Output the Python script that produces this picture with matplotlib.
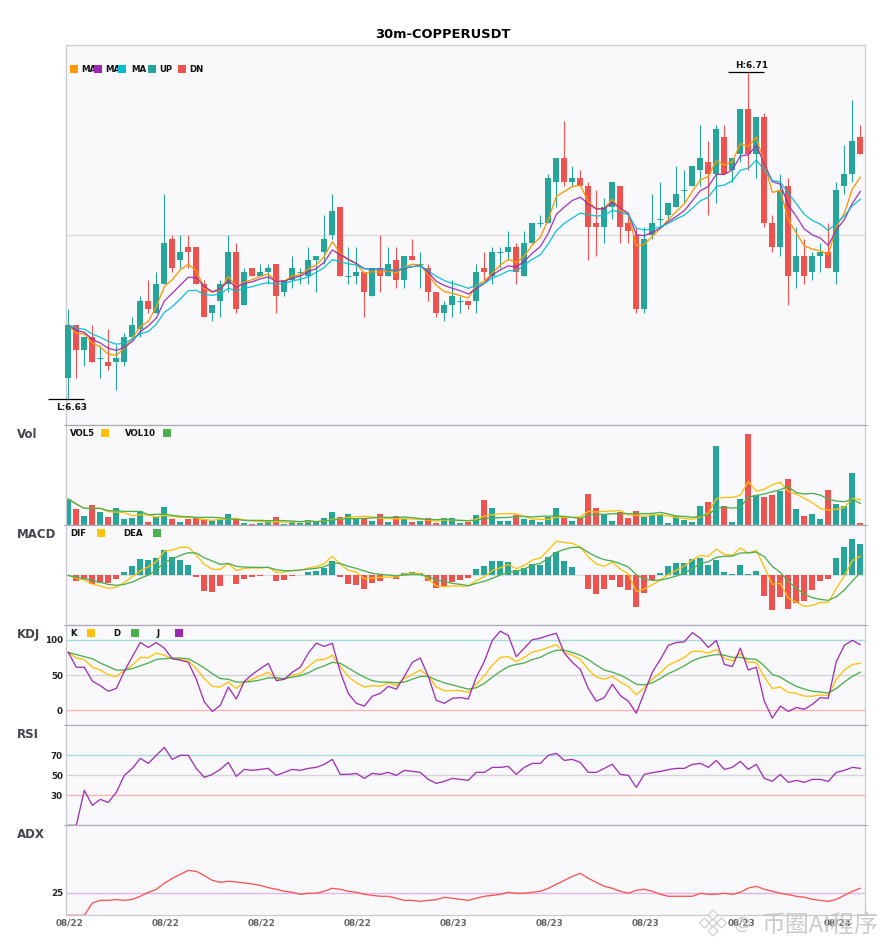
import matplotlib
matplotlib.use("Agg")
import matplotlib.pyplot as plt
from matplotlib.patches import Rectangle, Polygon
from matplotlib.lines import Line2D
from matplotlib.transforms import ScaledTranslation

W, H = 885, 950
plt.rcParams['font.family'] = ['DejaVu Sans']

title = "30m-COPPERUSDT"
tick_dates = ["08/22", "08/22", "08/22", "08/22", "08/23", "08/23", "08/23", "08/23", "08/24"]
tick_idx = [0, 12, 24, 36, 48, 60, 72, 84, 96]

opens = [6.635,6.648,6.642,6.645,6.640,6.639,6.639,6.639,6.645,6.647,
6.654,6.651,6.658,6.669,6.664,6.667,6.667,6.658,6.651,6.654,
6.658,6.666,6.653,6.662,6.660,6.661,6.663,6.656,6.659,6.661,
6.660,6.664,6.666,6.670,6.677,6.660,6.660,6.661,6.655,6.662,
6.660,6.664,6.659,6.665,6.663,6.662,6.656,6.651,6.653,6.654,
6.654,6.654,6.662,6.660,6.666,6.666,6.667,6.660,6.668,6.673,
6.673,6.683,6.689,6.683,6.684,6.682,6.673,6.672,6.677,6.682,
6.673,6.670,6.652,6.670,6.674,6.675,6.677,6.681,6.682,6.686,
6.688,6.685,6.694,6.686,6.690,6.701,6.690,6.699,6.673,6.667,
6.682,6.661,6.665,6.661,6.665,6.666,6.661,6.682,6.685,6.694]
highs = [6.652,6.648,6.645,6.648,6.643,6.647,6.643,6.646,6.650,6.655,
6.659,6.661,6.680,6.670,6.670,6.670,6.667,6.659,6.653,6.659,
6.670,6.668,6.662,6.662,6.663,6.663,6.663,6.659,6.665,6.662,
6.667,6.665,6.675,6.680,6.677,6.667,6.667,6.661,6.662,6.670,
6.667,6.667,6.665,6.669,6.666,6.663,6.656,6.654,6.659,6.655,
6.654,6.663,6.666,6.667,6.667,6.671,6.668,6.671,6.673,6.675,
6.685,6.689,6.698,6.687,6.686,6.683,6.681,6.679,6.683,6.682,
6.675,6.672,6.672,6.680,6.683,6.678,6.687,6.686,6.687,6.697,
6.693,6.697,6.697,6.689,6.701,6.710,6.699,6.700,6.675,6.685,
6.684,6.672,6.669,6.666,6.668,6.673,6.683,6.692,6.703,6.697]
lows = [6.630,6.635,6.638,6.639,6.635,6.637,6.632,6.638,6.644,6.645,
6.651,6.651,6.658,6.661,6.662,6.662,6.658,6.650,6.649,6.650,
6.656,6.651,6.653,6.660,6.660,6.658,6.651,6.655,6.657,6.658,
6.658,6.656,6.663,6.669,6.660,6.658,6.658,6.650,6.655,6.656,
6.660,6.657,6.657,6.664,6.657,6.654,6.650,6.649,6.650,6.651,
6.652,6.651,6.659,6.658,6.662,6.664,6.658,6.660,6.668,6.672,
6.673,6.677,6.682,6.682,6.682,6.664,6.665,6.668,6.674,6.668,
6.668,6.651,6.651,6.669,6.672,6.674,6.677,6.678,6.682,6.682,
6.675,6.678,6.685,6.683,6.688,6.686,6.684,6.672,6.666,6.665,
6.653,6.657,6.658,6.659,6.661,6.662,6.658,6.680,6.683,6.690]
closes = [6.648,6.642,6.645,6.639,6.640,6.638,6.640,6.645,6.648,6.654,
6.652,6.658,6.668,6.662,6.666,6.666,6.658,6.650,6.653,6.658,
6.666,6.652,6.661,6.660,6.661,6.662,6.655,6.659,6.662,6.661,
6.664,6.665,6.669,6.676,6.660,6.660,6.661,6.656,6.662,6.660,
6.663,6.659,6.665,6.664,6.663,6.656,6.651,6.653,6.655,6.654,
6.653,6.661,6.661,6.666,6.666,6.667,6.661,6.668,6.673,6.673,
6.684,6.689,6.683,6.684,6.682,6.672,6.672,6.677,6.683,6.672,
6.671,6.652,6.669,6.673,6.674,6.678,6.680,6.681,6.687,6.689,
6.685,6.696,6.685,6.689,6.701,6.690,6.699,6.673,6.667,6.681,
6.660,6.665,6.660,6.665,6.666,6.662,6.681,6.685,6.693,6.690]

ma5 = [6.6480,6.6460,6.6458,6.6436,6.6426,6.6409,6.6406,6.6423,6.6448,6.6476,
6.6489,6.6525,6.6574,6.6591,6.6615,6.6629,6.6613,6.6570,6.6560,6.6566,
6.6599,6.6574,6.6585,6.6591,6.6599,6.6605,6.6587,6.6588,6.6600,6.6603,
6.6617,6.6627,6.6648,6.6684,6.6656,6.6640,6.6630,6.6607,6.6611,6.6609,
6.6613,6.6607,6.6622,6.6629,6.6627,6.6603,6.6577,6.6562,6.6558,6.6552,
6.6546,6.6578,6.6587,6.6607,6.6627,6.6641,6.6633,6.6649,6.6676,6.6695,
6.6738,6.6795,6.6807,6.6819,6.6822,6.6782,6.6764,6.6766,6.6788,6.6762,
6.6752,6.6674,6.6678,6.6697,6.6717,6.6738,6.6758,6.6777,6.6807,6.6835,
6.6844,6.6882,6.6872,6.6879,6.6924,6.6917,6.6940,6.6876,6.6805,6.6809,
6.6738,6.6705,6.6674,6.6666,6.6662,6.6652,6.6721,6.6754,6.6813,6.6842]
ma10 = [6.6480,6.6467,6.6462,6.6445,6.6436,6.6423,6.6418,6.6425,6.6440,6.6464,
6.6478,6.6497,6.6539,6.6558,6.6578,6.6597,6.6596,6.6574,6.6562,6.6568,
6.6588,6.6573,6.6582,6.6586,6.6593,6.6598,6.6587,6.6587,6.6595,6.6600,
6.6611,6.6618,6.6634,6.6664,6.6652,6.6641,6.6631,6.6618,6.6617,6.6617,
6.6615,6.6613,6.6619,6.6623,6.6626,6.6609,6.6587,6.6577,6.6570,6.6564,
6.6556,6.6569,6.6582,6.6603,6.6615,6.6625,6.6622,6.6636,6.6656,6.6672,
6.6705,6.6751,6.6769,6.6785,6.6793,6.6777,6.6764,6.6765,6.6780,6.6766,
6.6754,6.6701,6.6699,6.6707,6.6717,6.6733,6.6746,6.6760,6.6784,6.6809,
6.6819,6.6849,6.6849,6.6860,6.6894,6.6897,6.6919,6.6876,6.6831,6.6825,
6.6774,6.6746,6.6715,6.6701,6.6693,6.6675,6.6713,6.6738,6.6778,6.6807]
ma20 = [6.6480,6.6472,6.6470,6.6458,6.6450,6.6440,6.6433,6.6436,6.6445,6.6459,
6.6464,6.6482,6.6511,6.6525,6.6544,6.6564,6.6565,6.6555,6.6553,6.6556,
6.6570,6.6564,6.6570,6.6574,6.6580,6.6584,6.6580,6.6582,6.6588,6.6592,
6.6598,6.6609,6.6621,6.6640,6.6635,6.6630,6.6627,6.6618,6.6617,6.6616,
6.6616,6.6613,6.6621,6.6623,6.6625,6.6613,6.6599,6.6589,6.6582,6.6577,
6.6570,6.6577,6.6582,6.6595,6.6603,6.6613,6.6613,6.6627,6.6641,6.6652,
6.6679,6.6711,6.6729,6.6742,6.6754,6.6750,6.6747,6.6748,6.6761,6.6756,
6.6750,6.6717,6.6713,6.6715,6.6720,6.6729,6.6740,6.6749,6.6766,6.6784,
6.6793,6.6819,6.6823,6.6833,6.6859,6.6864,6.6884,6.6860,6.6834,6.6830,
6.6803,6.6777,6.6751,6.6736,6.6727,6.6712,6.6729,6.6747,6.6772,6.6788]

volume = [77,47,26,59,38,23,50,17,20,41,8,23,53,17,8,17,23,17,11,17,
32,17,5,2,5,14,23,2,8,5,14,8,20,38,23,32,17,20,11,32,
8,26,17,8,11,20,5,20,20,5,8,29,74,50,11,11,29,17,14,8,
23,50,26,11,20,92,50,32,11,38,20,41,23,29,32,5,26,14,8,56,
68,236,56,8,77,272,89,83,89,101,137,47,26,32,17,104,62,56,155,5]
vol5 = [77,62,49,49,49,39,38,36,27,30,29,23,28,25,22,22,21,15,13,16,
18,19,14,11,10,8,9,8,8,9,9,10,11,16,18,22,24,25,24,19,
19,17,18,17,16,14,11,14,14,12,12,16,26,30,33,33,33,24,17,16,
16,22,22,22,24,40,38,40,41,43,29,29,25,30,30,26,22,19,16,23,
35,78,82,82,88,130,101,106,120,127,99,92,79,66,49,44,46,52,79,75]
vol10 = [77,62,49,49,49,42,42,40,40,40,30,31,32,28,25,24,22,22,22,21,
17,16,13,13,13,12,13,12,11,9,12,9,11,14,17,18,18,19,20,22,
22,22,23,21,18,16,15,17,14,13,12,13,19,21,21,22,24,25,23,25,
26,26,25,22,19,29,31,31,33,33,33,33,33,34,37,32,26,25,22,26,
30,49,52,50,52,82,88,92,99,105,114,96,92,94,89,76,71,69,76,64]

macd_hist = [0,-17,-11,-26,-23,-23,-11,10,28,49,46,52,76,55,46,31,-5,-47,-50,-32,
0,-26,-11,-5,-2,0,-17,-14,-2,0,10,13,22,43,-5,-26,-29,-41,-23,-17,
0,-11,6,10,6,-17,-38,-32,-20,-14,-8,19,28,43,43,40,16,22,34,31,
55,70,43,25,0,-41,-56,-41,-14,-35,-44,-95,-53,-14,7,28,37,37,49,52,
31,46,10,4,31,4,13,-62,-104,-65,-101,-83,-77,-44,-17,-11,52,85,109,94]
dif = [0,-9,-14,-26,-32,-39,-36,-21,-4,14,25,41,72,76,84,84,61,33,18,18,
35,15,21,22,22,24,9,10,15,15,22,26,35,58,33,15,10,-10,-8,-6,
-5,-5,4,6,6,-11,-32,-34,-32,-32,-32,-16,-4,15,23,33,20,30,46,52,
76,102,99,96,85,55,34,27,40,19,4,-48,-41,-28,-14,3,15,28,46,60,
57,79,63,60,82,66,75,25,-27,-24,-69,-80,-93,-90,-81,-81,-39,-2,44,57]
dea = [0,-6,-10,-15,-21,-27,-30,-27,-20,-9,1,16,39,49,60,68,67,53,43,33,
36,27,25,24,24,24,17,14,14,16,19,21,26,37,36,27,21,13,6,3,
1,-1,1,3,2,-4,-14,-18,-24,-27,-31,-24,-18,-9,1,9,12,19,31,36,
51,69,78,84,84,69,56,47,43,35,25,2,-11,-15,-14,-9,-2,7,20,36,
41,54,57,58,67,68,70,56,27,9,-18,-39,-56,-67,-72,-75,-64,-44,-17,8]

k_line = [82,74,72,61,57,50,48,56,64,75,74.5,81,78,73,72,70,59,45,34,33,
40,31,40,44,49,54,45,44,50,52,62,71,72,78,62,48,39,33,35,34,
39,35,45,51,57,49,33,28,28,28,25.5,37,49,64,75,76,69,75,82.5,85,
89,93,82,78,72,58,47,44,48,40,34,22,32,44,53,64,69,75,83.5,83.5,
81,86,74,70,81,68,68,47,31,33,25.5,24,20,20,22,21,44,57,65,66.5]
d_line = [82,79,76,73,67,62,57,57,59,63,67,72,73,74,74,73,67,60,52,45,
44,40,40,41,43,46,46,45,47,49,53,59,63,68,66.5,60,53,47,42,40,
40,39,40,44,48,48,43,39,36,33,30,32,38,47,55,62,65,67,72,75,
81,85,85,82,78,72,64,57,54,50,44,37,36,39,45,52,57,63,70,74.5,
77,79,78,75,75,73,72,63,51,47,40,34,30,27,26,24.5,31,40,48,54]
j_line = [82,61,61,41.5,35,27,31,55,76,96,89,96,88,73,71,68,44,12,-1.5,7,
33,16,41,51,59,66.5,42,44,54,61,81,95,90.5,95,54,24,10,6,20,24,
34,30,48,68,74,48,14,10,17,18,16,47,69,99,112,106,76,88,100,102,
106,109,81,68,58,31,13,18,37,21,13,-4,25,54,72,92,96,97,110,102,
89,99,65,62,88,57,61,13,-11,6,-1.5,4,1.5,8.5,18,17,69,92,99,93]

rsi = [0,0,35,20,26,23,33,50,57,67,62,70,78,66,70,70,57,48,51,56,
63,49,56,55,56,57,50,53,56,55,57,58,61,66,51,51,52,47,52,51,
53,50,55,54,53,46,42,44,47,46,45,53,53,58,58,59,51,58,62,62,
70,72,65,66,63,53,53,57,61,51,50,38,51,52.7,54,55.7,57,57,61,62,
58,65,56,58,64,56,61,47,44,51,43,45,43,46,46,44,53,55,58,57]

adx = [0,0,0,13.6,16.5,16.5,17.3,16.5,17.6,21,25.4,28.7,35.3,40.8,45.2,49.6,48.5,43.8,38.6,36.4,
37.5,36.8,35.7,34.6,33,30.5,28.7,26.5,25.4,23.2,24.3,24.3,26.5,29.8,28.7,26.5,25.4,23.2,22,21,
21,18.8,16.5,16.5,15.4,16.5,17.3,19.9,18.8,17.6,16.5,18.8,21,22,23.2,25.4,24.3,24.3,25.4,26.5,
29.8,34.2,38.6,43,46.3,40.8,36.4,32,29.8,26.5,24.3,27.6,28.7,26.5,23.2,21,21,21,21,24.3,
23.2,23.2,24.3,23.2,25.4,30.1,32,28.7,26.5,24.3,22.8,21,19.9,17.6,16.5,15.4,17.6,22,26.5,29.8]

series = [opens, highs, lows, closes, ma5, ma10, ma20, volume, vol5, vol10, macd_hist, dif, dea,
          k_line, d_line, j_line, rsi, adx]
for s in series:
    assert len(s) == 100, len(s)

UP, DN = '#26a69a', '#ef5350'
ORANGE, PURPLE, CYAN = '#ff9800', '#9c27b0', '#00bcd4'
YELLOW, GREEN = '#ffc107', '#4caf50'
BG = '#f9f9fc'
EDGE = '#c9c9d3'
DARK = '#aaaab2'
X = list(range(100))
colors = [UP if c >= o else DN for o, c in zip(opens, closes)]
XLIM = (-0.325, 99.625)

fig = plt.figure(figsize=(W / 100, H / 100), dpi=100, facecolor='white')


def panel(top, bottom, ylim):
    l, r = 65.7, 865.3
    ax = fig.add_axes([l / W, 1 - bottom / H, (r - l) / W, (bottom - top) / H], facecolor=BG)
    ax.set_xlim(*XLIM)
    ax.set_ylim(*ylim)
    ax.set_xticks([])
    ax.set_yticks([])
    for s in ax.spines.values():
        s.set_color(EDGE)
        s.set_linewidth(0.9)
    ax.spines['top'].set_color(DARK)
    return ax


def yticks(ax, vals):
    ax.set_yticks(vals)
    ax.set_yticklabels([str(v) for v in vals], fontsize=6.3, fontweight='bold', color='#222222')
    ax.tick_params(axis='y', length=0, pad=2.0)


def px_rect(x0, y0, x1, y1, color):
    fig.add_artist(Rectangle((x0 / W, 1 - y1 / H), (x1 - x0) / W, (y1 - y0) / H,
                             transform=fig.transFigure, facecolor=color, edgecolor='none', zorder=6))


def px_text(x, y, s, size=6.2, color='#111111', ha='left', zorder=5, **kw):
    fig.text(x / W, 1 - y / H, s, fontsize=size, fontweight=kw.pop('fontweight', 'bold'), color=color,
             ha=ha, va='center', zorder=zorder, **kw)


# ---- main candles
ax0 = panel(45.3, 424.7, (6.6236, 6.7165))
ax0.spines['top'].set_color(EDGE)
ax0.axhline(6.67, color='#dcdce0', lw=1.0, zorder=1)
ax0.vlines(X, lows, highs, colors=colors, lw=0.8, zorder=2, clip_on=False)
body_b = [min(o, c) for o, c in zip(opens, closes)]
body_h = [abs(o - c) for o, c in zip(opens, closes)]
ax0.bar(X, body_h, 0.72, bottom=body_b, color=colors, zorder=3, clip_on=False, linewidth=0)
dx = [i for i in X if opens[i] == closes[i]]
ax0.hlines([opens[i] for i in dx], [i - 0.36 for i in dx], [i + 0.36 for i in dx],
           colors=[colors[i] for i in dx], lw=0.8, zorder=3)
ax0.plot(X, ma5, color=ORANGE, lw=0.95, zorder=4)
ax0.plot(X, ma10, color=PURPLE, lw=0.95, alpha=0.9, zorder=4)
ax0.plot(X, ma20, color=CYAN, lw=0.95, alpha=0.9, zorder=4)

lo_i = lows.index(min(lows))
hi_i = highs.index(max(highs))
ax0.hlines(min(lows), lo_i - 2.5, lo_i + 2, colors='black', lw=0.9, zorder=5, clip_on=False)
ax0.hlines(max(highs), hi_i - 2.5, hi_i + 2, colors='black', lw=0.9, zorder=5, clip_on=False)
ax0.annotate(f"L:{min(lows):.2f}", (lo_i + 0.42, min(lows)), xytext=(0, -6.5), textcoords='offset points',
             ha='center', va='center', fontsize=6.4, fontweight='bold', color='#111111', zorder=6)
ax0.annotate(f"H:{max(highs):.2f}", (hi_i + 0.45, max(highs)), xytext=(0, 4.4), textcoords='offset points',
             ha='center', va='center', fontsize=6.4, fontweight='bold', color='#111111', zorder=6)

# ---- volume
ax1 = panel(424.7, 524.7, (0, 300))
ax1.bar(X, volume, 0.72, color=colors, zorder=2, linewidth=0)
ax1.plot(X, vol5, color=YELLOW, lw=0.95, zorder=3)
ax1.plot(X, vol10, color=GREEN, lw=0.95, zorder=3)

# ---- MACD
ax2 = panel(524.7, 624.7, (-148, 152))
ax2.axhline(0, color='#dcdce0', lw=1.0, zorder=1)
ax2.bar(X, macd_hist, 0.72, color=[UP if v >= 0 else DN for v in macd_hist], zorder=2, linewidth=0)
ax2.plot(X, dif, color=YELLOW, lw=0.95, zorder=3)
ax2.plot(X, dea, color=GREEN, lw=0.95, zorder=3)

# ---- KDJ
ax3 = panel(624.7, 724.7, (-20.3, 121.2))
ax3.axhline(100, color='#a8dcd8', lw=1.0, zorder=1)
ax3.axhline(50, color='#d4d4d8', lw=1.0, zorder=1)
ax3.axhline(0, color='#ffb4b4', lw=1.0, zorder=1)
ax3.plot(X, k_line, color=YELLOW, lw=0.95, zorder=3)
ax3.plot(X, d_line, color=GREEN, lw=0.95, zorder=3)
ax3.plot(X, j_line, color=PURPLE, lw=0.95, alpha=0.95, zorder=3)
yticks(ax3, [0, 50, 100])

# ---- RSI
ax4 = panel(724.7, 824.7, (0.67, 100.67))
ax4.axhline(70, color='#a8dcd8', lw=1.0, zorder=1)
ax4.axhline(50, color='#d4d4d8', lw=1.0, zorder=1)
ax4.axhline(30, color='#ffb4b4', lw=1.0, zorder=1)
ax4.plot(X, rsi, color=PURPLE, lw=0.95, alpha=0.95, zorder=3)
yticks(ax4, [30, 50, 70])

# ---- ADX
ax5 = panel(824.7, 915.3, (0, 100))
ax5.axhline(25, color='#dfb4e6', lw=1.0, zorder=1)
ax5.plot(X, adx, color='#ff5252', lw=0.95, zorder=3)
yticks(ax5, [25])
ax5.set_xticks(tick_idx)
ax5.set_xticklabels(tick_dates, fontsize=6.4, fontweight='bold', color='#666666')
ax5.tick_params(axis='x', length=0, pad=2.0)
shift = ScaledTranslation(1.7 / 100, 0, fig.dpi_scale_trans)
for lab in ax5.get_xticklabels():
    lab.set_transform(lab.get_transform() + shift)

# ---- panel boundary ticks
for y in [424.7, 524.7, 624.7, 724.7, 824.7]:
    for x0, x1 in [(64.2, 65.7), (865.3, 866.8)]:
        fig.add_artist(Line2D([x0 / W, x1 / W], [1 - y / H] * 2, color=DARK, lw=0.7))

# ---- titles and labels
px_text(442.5, 34.3, title, size=9.35, color='black', ha='center')
for label, y in [("Vol", 434.7), ("MACD", 534.7), ("KDJ", 634.7), ("RSI", 734.7), ("ADX", 834.7)]:
    px_text(17, y, label, size=8.5, color='#444450')

# ---- legends (text clipped by following swatch as in the reference)
main_leg = [(70, ORANGE, 81, "MA"), (94, PURPLE, 105, "MA"), (118, CYAN, 131, "MA"),
            (148, UP, 159, "UP"), (178, DN, 189, "DN")]
for sx, c, tx, s in main_leg:
    px_rect(sx, 65, sx + 8, 73, c)
    px_text(tx, 69.2, s)
for sx, c, tx, s in [(101, YELLOW, 70, "VOL5"), (163, GREEN, 125, "VOL10")]:
    px_rect(sx, 429, sx + 8, 437, c)
    px_text(tx, 433.2, s)
for sx, c, tx, s in [(97, YELLOW, 70, "DIF"), (153, GREEN, 123, "DEA")]:
    px_rect(sx, 529, sx + 8, 537, c)
    px_text(tx, 533.2, s)
for sx, c, tx, s in [(87, YELLOW, 70, "K"), (131, GREEN, 113, "D"), (175, PURPLE, 157, "J")]:
    px_rect(sx, 629, sx + 8, 637, c)
    px_text(tx, 633.2, s)

# ---- watermark
WM = '#c2c2c2'
def diamond(cx, cy, r):
    pts = [((cx) / W, 1 - (cy - r) / H), ((cx + r) / W, 1 - cy / H),
           (cx / W, 1 - (cy + r) / H), ((cx - r) / W, 1 - cy / H)]
    fig.add_artist(Polygon(pts, closed=True, transform=fig.transFigure, facecolor='white',
                           edgecolor=WM, lw=1.0, alpha=0.7, zorder=8))
for cx, cy, r in [(713, 915, 5), (704.5, 923, 5), (721.5, 923, 5), (713, 931, 5), (713, 923, 4)]:
    diamond(cx, cy, r)
fig.text(742 / W, 1 - 924 / H, "@", fontsize=12, color=WM, ha='center', va='center', zorder=8,
         family=['DejaVu Sans'], alpha=0.85)
fig.text(761 / W, 1 - 925.5 / H, "币圈AI程序", fontsize=17.2, color=WM, ha='left', va='center', zorder=8,
         family=['Noto Sans CJK SC', 'DejaVu Sans'], fontweight='light', alpha=0.85)

fig.savefig("out.png", dpi=100, facecolor='white')
